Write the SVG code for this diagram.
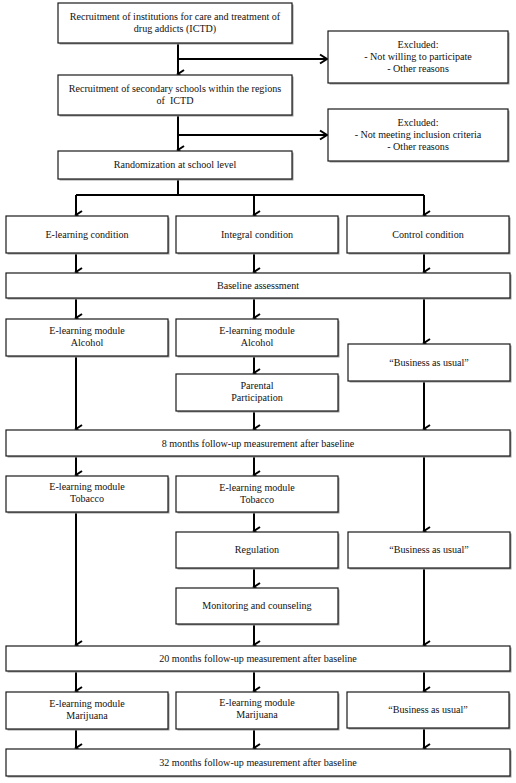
<svg xmlns="http://www.w3.org/2000/svg" width="516" height="783" viewBox="0 0 516 783">
<style>
.box{fill:#fff;stroke:#1a1a1a;stroke-width:1.2}
.sh{fill:#9a9a9a}
.t{font-family:"Liberation Serif","Times New Roman",serif;font-size:10.1px;fill:#111;text-anchor:middle}
.c{fill:none;stroke:#000;stroke-width:2}
</style>
<defs>
<marker id="ah" markerWidth="10" markerHeight="10" refX="5" refY="8" orient="auto-start-reverse" markerUnits="userSpaceOnUse" viewBox="0 0 10 10">
<path d="M1,2 L5,8 L9,2" fill="none" stroke="#000" stroke-width="2"/>
</marker>
<marker id="ar" markerWidth="12" markerHeight="12" refX="10" refY="6" orient="auto" markerUnits="userSpaceOnUse" viewBox="0 0 12 12">
<path d="M3,1.5 L10,6 L3,10.5" fill="none" stroke="#000" stroke-width="2"/>
</marker>
</defs>
<rect width="516" height="783" fill="#fff"/>
<g id="connectors">
<path class="c" d="M178,43 V74" marker-end="url(#ah)"/>
<path class="c" d="M178,59 H327" marker-end="url(#ar)"/>
<path class="c" d="M178,115 V150" marker-end="url(#ah)"/>
<path class="c" d="M178,135 H327" marker-end="url(#ar)"/>
<path class="c" d="M178,179 V195 M76,195 H424"/>
<path class="c" d="M76,195 V215" marker-end="url(#ah)"/>
<path class="c" d="M254,195 V215" marker-end="url(#ah)"/>
<path class="c" d="M424,195 V215" marker-end="url(#ah)"/>
<path class="c" d="M76,253 V272" marker-end="url(#ah)"/>
<path class="c" d="M254,253 V272" marker-end="url(#ah)"/>
<path class="c" d="M424,253 V272" marker-end="url(#ah)"/>
<path class="c" d="M76,298 V318" marker-end="url(#ah)"/>
<path class="c" d="M254,298 V318" marker-end="url(#ah)"/>
<path class="c" d="M424,298 V343" marker-end="url(#ah)"/>
<path class="c" d="M254,356 V373" marker-end="url(#ah)"/>
<path class="c" d="M76,356 V429" marker-end="url(#ah)"/>
<path class="c" d="M254,411 V429" marker-end="url(#ah)"/>
<path class="c" d="M424,381 V429" marker-end="url(#ah)"/>
<path class="c" d="M76,456 V475" marker-end="url(#ah)"/>
<path class="c" d="M254,456 V475" marker-end="url(#ah)"/>
<path class="c" d="M424,456 V531" marker-end="url(#ah)"/>
<path class="c" d="M254,512 V531" marker-end="url(#ah)"/>
<path class="c" d="M254,568 V587" marker-end="url(#ah)"/>
<path class="c" d="M76,512 V645" marker-end="url(#ah)"/>
<path class="c" d="M254,624 V645" marker-end="url(#ah)"/>
<path class="c" d="M424,568 V645" marker-end="url(#ah)"/>
<path class="c" d="M76,671 V691" marker-end="url(#ah)"/>
<path class="c" d="M254,671 V691" marker-end="url(#ah)"/>
<path class="c" d="M424,671 V691" marker-end="url(#ah)"/>
<path class="c" d="M76,729 V748" marker-end="url(#ah)"/>
<path class="c" d="M254,729 V748" marker-end="url(#ah)"/>
<path class="c" d="M424,728 V748" marker-end="url(#ah)"/>
</g>
<g id="n1"><rect class="sh" x="59.5" y="4.5" width="234" height="40"/><rect class="box" x="58" y="3" width="234" height="40"/>
<text class="t" x="175" y="20">Recruitment of institutions for care and treatment of</text><text class="t" x="175" y="32">drug addicts (ICTD)</text></g>
<g id="ex1"><rect class="sh" x="329.5" y="32.5" width="180" height="52"/><rect class="box" x="328" y="31" width="180" height="52"/>
<text class="t" x="418" y="48">Excluded:</text><text class="t" x="418" y="60">- Not willing to participate</text><text class="t" x="418" y="72">- Other reasons</text></g>
<g id="n2"><rect class="sh" x="59.5" y="76.5" width="234" height="40"/><rect class="box" x="58" y="75" width="234" height="40"/>
<text class="t" x="175" y="92">Recruitment of secondary schools within the regions</text><text class="t" x="175" y="104" xml:space="preserve">of  ICTD</text></g>
<g id="ex2"><rect class="sh" x="329.5" y="110.5" width="180" height="52"/><rect class="box" x="328" y="109" width="180" height="52"/>
<text class="t" x="418" y="126">Excluded:</text><text class="t" x="418" y="138">- Not meeting inclusion criteria</text><text class="t" x="418" y="150">- Other reasons</text></g>
<g id="n3"><rect class="sh" x="59.5" y="152.5" width="234" height="28"/><rect class="box" x="58" y="151" width="234" height="28"/>
<text class="t" x="175" y="168">Randomization at school level</text></g>
<g id="c1"><rect class="sh" x="7.5" y="217.5" width="162" height="37"/><rect class="box" x="6" y="216" width="162" height="37"/>
<text class="t" x="87" y="238">E-learning condition</text></g>
<g id="c2"><rect class="sh" x="177.5" y="217.5" width="162" height="37"/><rect class="box" x="176" y="216" width="162" height="37"/>
<text class="t" x="257" y="238">Integral condition</text></g>
<g id="c3"><rect class="sh" x="348.5" y="217.5" width="162" height="37"/><rect class="box" x="347" y="216" width="162" height="37"/>
<text class="t" x="428" y="238">Control condition</text></g>
<g id="baseline"><rect class="sh" x="7.5" y="274.5" width="504" height="25"/><rect class="box" x="6" y="273" width="504" height="25"/>
<text class="t" x="258" y="289">Baseline assessment</text></g>
<g id="a1"><rect class="sh" x="7.5" y="320.5" width="162" height="37"/><rect class="box" x="6" y="319" width="162" height="37"/>
<text class="t" x="87" y="334">E-learning module</text><text class="t" x="87" y="346">Alcohol</text></g>
<g id="a2"><rect class="sh" x="177.5" y="320.5" width="162" height="37"/><rect class="box" x="176" y="319" width="162" height="37"/>
<text class="t" x="257" y="334">E-learning module</text><text class="t" x="257" y="346">Alcohol</text></g>
<g id="b1"><rect class="sh" x="349.5" y="345.5" width="162" height="37"/><rect class="box" x="348" y="344" width="162" height="37"/>
<text class="t" x="429" y="366">“Business as usual”</text></g>
<g id="pp"><rect class="sh" x="177.5" y="375.5" width="162" height="37"/><rect class="box" x="176" y="374" width="162" height="37"/>
<text class="t" x="257" y="389">Parental</text><text class="t" x="257" y="401">Participation</text></g>
<g id="m8"><rect class="sh" x="7.5" y="431.5" width="504" height="26"/><rect class="box" x="6" y="430" width="504" height="26"/>
<text class="t" x="258" y="447">8 months follow-up measurement after baseline</text></g>
<g id="t1"><rect class="sh" x="7.5" y="477.5" width="162" height="36"/><rect class="box" x="6" y="476" width="162" height="36"/>
<text class="t" x="87" y="490">E-learning module</text><text class="t" x="87" y="502">Tobacco</text></g>
<g id="t2"><rect class="sh" x="177.5" y="477.5" width="162" height="36"/><rect class="box" x="176" y="476" width="162" height="36"/>
<text class="t" x="257" y="491">E-learning module</text><text class="t" x="257" y="503">Tobacco</text></g>
<g id="reg"><rect class="sh" x="177.5" y="533.5" width="162" height="36"/><rect class="box" x="176" y="532" width="162" height="36"/>
<text class="t" x="257" y="553">Regulation</text></g>
<g id="b2"><rect class="sh" x="349.5" y="533.5" width="162" height="36"/><rect class="box" x="348" y="532" width="162" height="36"/>
<text class="t" x="429" y="553">“Business as usual”</text></g>
<g id="mon"><rect class="sh" x="177.5" y="589.5" width="162" height="36"/><rect class="box" x="176" y="588" width="162" height="36"/>
<text class="t" x="257" y="609">Monitoring and counseling</text></g>
<g id="m20"><rect class="sh" x="7.5" y="647.5" width="504" height="25"/><rect class="box" x="6" y="646" width="504" height="25"/>
<text class="t" x="258" y="662">20 months follow-up measurement after baseline</text></g>
<g id="mj1"><rect class="sh" x="7.5" y="693.5" width="162" height="37"/><rect class="box" x="6" y="692" width="162" height="37"/>
<text class="t" x="87" y="707">E-learning module</text><text class="t" x="87" y="719">Marijuana</text></g>
<g id="mj2"><rect class="sh" x="177.5" y="693.5" width="162" height="37"/><rect class="box" x="176" y="692" width="162" height="37"/>
<text class="t" x="257" y="706">E-learning module</text><text class="t" x="257" y="718">Marijuana</text></g>
<g id="b3"><rect class="sh" x="348.5" y="693.5" width="162" height="36"/><rect class="box" x="347" y="692" width="162" height="36"/>
<text class="t" x="428" y="713">“Business as usual”</text></g>
<g id="m32"><rect class="sh" x="7.5" y="750.5" width="504" height="27"/><rect class="box" x="6" y="749" width="504" height="27"/>
<text class="t" x="258" y="766">32 months follow-up measurement after baseline</text></g>
</svg>
